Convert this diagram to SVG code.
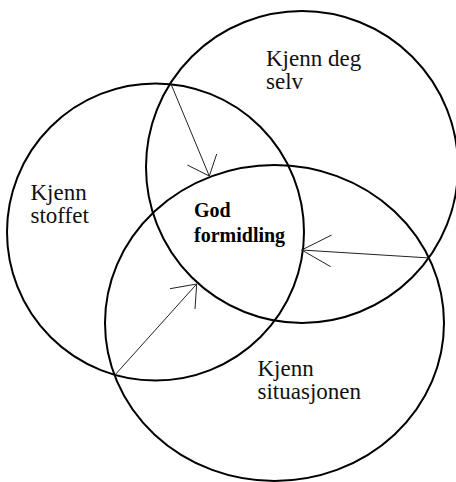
<svg xmlns="http://www.w3.org/2000/svg" width="456" height="482" viewBox="0 0 456 482">
<style>
.ring{fill:none;stroke:#000;stroke-width:2}
.lbl{font-family:"Liberation Serif","DejaVu Serif",serif;font-size:23px;fill:#111}
.core{font-family:"Liberation Serif","DejaVu Serif",serif;font-size:20px;font-weight:bold;fill:#000}
.arr{fill:none;stroke:#222;stroke-width:1}
</style>
<rect width="456" height="482" fill="#fff"/>
<g id="selv">
<circle class="ring" cx="302" cy="167" r="156"/>
<text class="lbl" x="266" y="66">Kjenn deg</text>
<text class="lbl" x="266" y="89">selv</text>
</g>
<g id="stoffet">
<circle class="ring" cx="155.5" cy="232" r="148.5"/>
<text class="lbl" x="30.5" y="200">Kjenn</text>
<text class="lbl" x="30.5" y="223">stoffet</text>
</g>
<g id="situasjonen">
<ellipse class="ring" cx="274.5" cy="323" rx="169.5" ry="158"/>
<text class="lbl" x="257.5" y="375.5">Kjenn</text>
<text class="lbl" x="257.5" y="399">situasjonen</text>
</g>
<g id="formidling">
<text class="core" x="194" y="217">God</text>
<text class="core" x="194" y="242">formidling</text>
</g>
<g id="connectors">
<path class="arr" d="M171,84 L209.3,176 M187.3,165 L209.3,176 L216.7,154"/>
<path class="arr" d="M430,258 L301.7,250 M331.7,235 L301.7,250 L330.7,266.7"/>
<path class="arr" d="M114,376 L196.7,284 M170,288.7 L196.7,284 L195,309"/>
</g>
</svg>
